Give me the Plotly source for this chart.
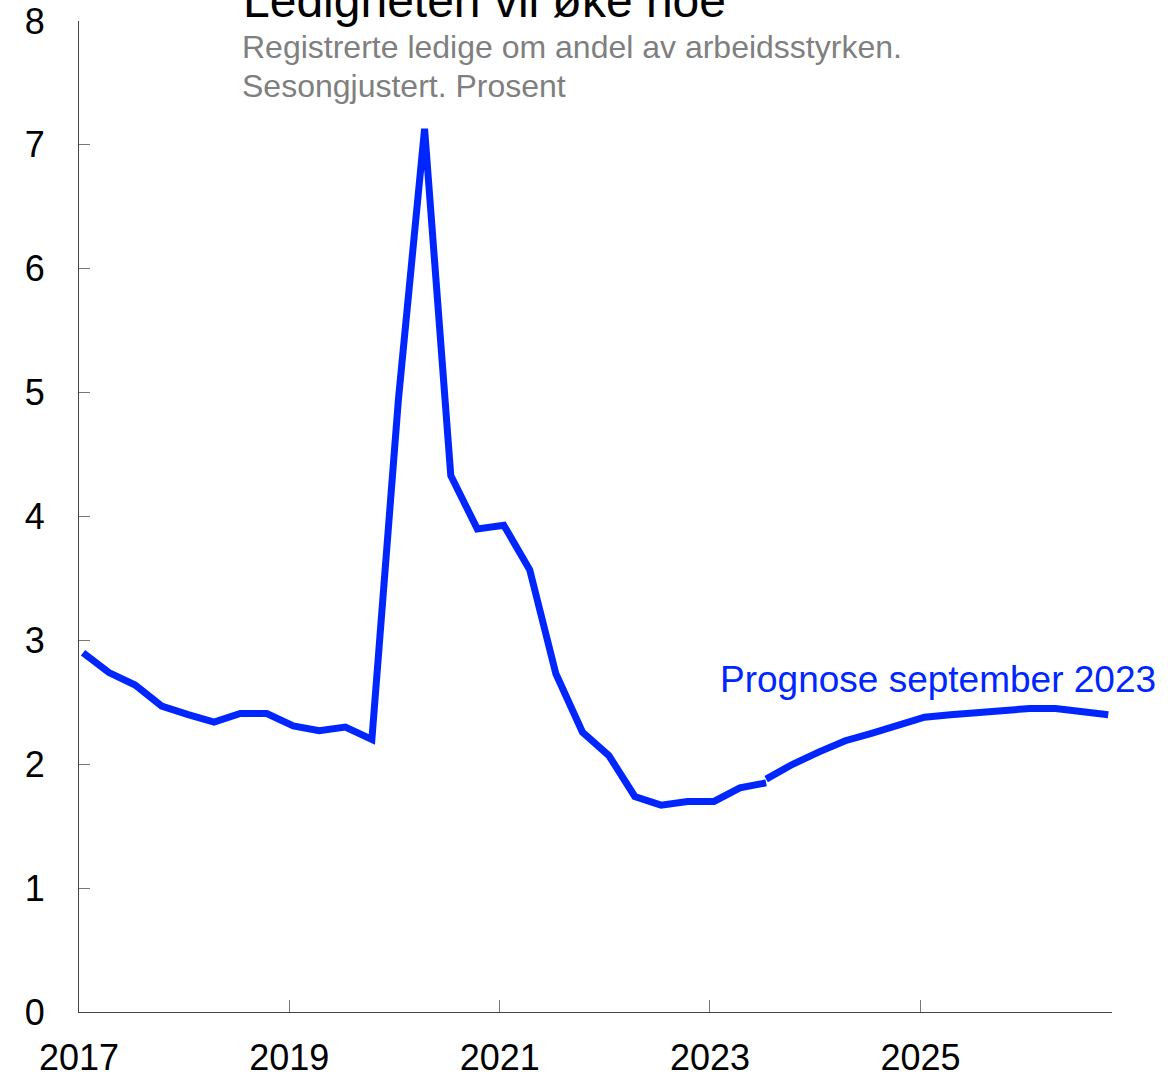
import plotly.graph_objects as go

# Quarterly dates (plotted mid-first-month of each quarter)
hist_dates = [f"{y}-{m:02d}-15" for y in range(2017, 2024) for m in (1, 4, 7, 10)][:27]
hist_values = [2.90, 2.74, 2.64, 2.47, 2.40, 2.34, 2.41, 2.41, 2.31, 2.27, 2.30, 2.20,
               4.94, 7.13, 4.33, 3.90, 3.93, 3.57, 2.73, 2.26, 2.07, 1.74, 1.67, 1.70,
               1.70, 1.81, 1.85]

fc_dates = ["2023-07-15", "2023-10-15"] + [f"{y}-{m:02d}-15" for y in range(2024, 2027) for m in (1, 4, 7, 10)]
fc_values = [1.88, 2.00, 2.10, 2.19, 2.25, 2.32, 2.38, 2.40, 2.42, 2.44, 2.45, 2.45, 2.43, 2.40]

tick_years = [2017, 2019, 2021, 2023, 2025]
y_ticks = [0, 1, 2, 3, 4, 5, 6, 7, 8]

title_text = "Ledigheten vil øke noe"
subtitle_lines = ["Registrerte ledige om andel av arbeidsstyrken.", "Sesongjustert. Prosent"]
forecast_label = "Prognose september 2023"

BLUE = "#0026ff"
FONT = "Liberation Sans, Arial, sans-serif"

fig = go.Figure()
fig.add_trace(go.Scatter(x=hist_dates, y=hist_values, mode="lines",
                         line=dict(color=BLUE, width=7), showlegend=False, cliponaxis=True))
fig.add_trace(go.Scatter(x=fc_dates, y=fc_values, mode="lines",
                         line=dict(color=BLUE, width=7), showlegend=False, cliponaxis=True))

W, H = 1173, 1077
L, R, T, B = 78.5, 60.5, 21, 65
ph = H - T - B

def py(pix):
    return 1 - (pix - T) / ph

def px(pix):
    return (pix - L) / (W - L - R)

fig.update_layout(
    width=W, height=H,
    margin=dict(l=L, r=R, t=T, b=B, pad=0, autoexpand=False),
    paper_bgcolor="white", plot_bgcolor="white",
    font=dict(family=FONT, color="black"),
    xaxis=dict(
        type="date",
        range=["2017-01-01", "2026-10-28"],
        tickvals=[f"{y}-01-01" for y in tick_years],
        ticktext=[str(y) for y in tick_years],
        ticks="inside", ticklen=12, tickcolor="#777777", tickwidth=1,
        showline=True, linecolor="#444444", linewidth=1.2,
        showgrid=False, zeroline=False, automargin=False,
        tickfont=dict(size=36, color="black", family=FONT),
        ticklabelstandoff=14,
    ),
    yaxis=dict(
        range=[0, 8],
        tickvals=y_ticks,
        ticks="inside", ticklen=11, tickcolor="#777777", tickwidth=1,
        showline=True, linecolor="#444444", linewidth=1.2,
        showgrid=False, zeroline=False, automargin=False,
        tickfont=dict(size=36, color="black", family=FONT),
        ticklabelstandoff=26,
    ),
)

fig.add_annotation(text=title_text, xref="paper", yref="paper",
                   x=px(241), y=py(0), xanchor="left", yanchor="middle",
                   showarrow=False, font=dict(size=48, color="black", family=FONT))
fig.add_annotation(text=subtitle_lines[0], xref="paper", yref="paper",
                   x=px(240), y=py(47), xanchor="left", yanchor="middle",
                   showarrow=False, font=dict(size=32, color="#7f7f7f", family=FONT))
fig.add_annotation(text=subtitle_lines[1], xref="paper", yref="paper",
                   x=px(240), y=py(86), xanchor="left", yanchor="middle",
                   showarrow=False, font=dict(size=32, color="#7f7f7f", family=FONT))
fig.add_annotation(text=forecast_label, xref="paper", yref="paper",
                   x=px(718), y=py(679), xanchor="left", yanchor="middle",
                   showarrow=False, font=dict(size=37, color=BLUE, family=FONT))

fig.write_html("out.html", config={"displayModeBar": False},
               post_script="document.body.style.margin='0';document.body.style.overflow='hidden';")
